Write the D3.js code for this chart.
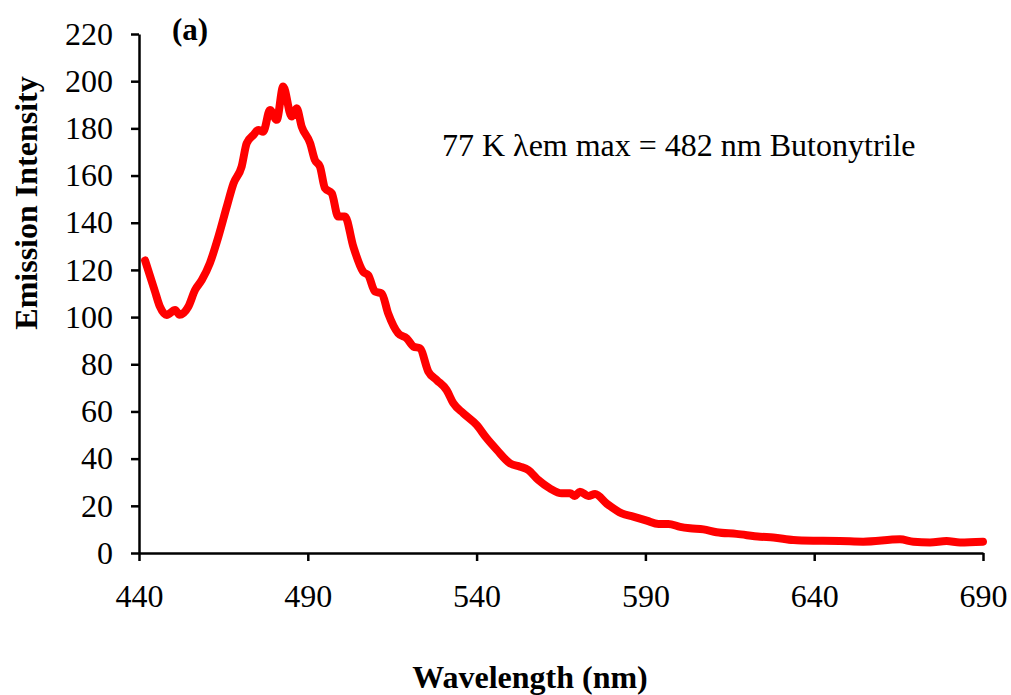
<!DOCTYPE html>
<html>
<head>
<meta charset="utf-8">
<script src="https://cdn.jsdelivr.net/npm/d3@7"></script>
<style>
  body { margin: 0; background: #fff; }
  svg text { font-family: "Liberation Serif", "Times New Roman", serif; fill: #000; }
</style>
</head>
<body>
<svg width="1011" height="695"></svg>
<script>
// Emission spectrum
const wavelength = [441.8, 444.7, 446.2, 448.2, 450.7, 452, 454.6, 456.6, 458.6, 461, 463.5, 466, 468, 470.4,
    471.9, 473.9, 475.3, 476.8, 478.8, 480.8, 482.7, 485.2, 486.7, 488.2, 490.7, 492.1, 493.6, 495.1, 497.1,
    499, 501, 503.5, 506.4, 507.9, 509.9, 511.9, 513.8, 516.8, 519.3, 521.3, 523.2, 525.7, 528.2, 531.1,
    533.1, 536.1, 540, 543, 546, 549.9, 552.9, 555.3, 558.3, 561.7, 565.2, 567.7, 569.1, 570.6, 573.1,
    575.1, 578.5, 583, 586.4, 590.4, 593.9, 596.8, 600.3, 603.2, 607.2, 611.1, 617, 624, 627.9, 633.8,
    639.7, 647.6, 654.5, 665.4, 669.4, 674.3, 679.2, 683.2, 690];
const intensity = [124, 111, 104.4, 100.9, 103, 101, 104.4, 111.5, 115.7, 122.9, 134, 146.8, 156.7, 163.8,
    173.7, 177.2, 179.3, 178.6, 187.8, 183.6, 197.7, 185, 188.5, 180.7, 173.7, 166.6, 163.8, 154.6, 152.5,
    142.6, 142.6, 129.8, 119.2, 117.8, 110.8, 110, 101.6, 93.1, 91, 87.5, 86.8, 76.9, 73.3, 69.1,
    63.5, 59.2, 54.3, 48.6, 43.7, 38, 36.6, 35.2, 30.9, 27.4, 25.3, 25.3, 24.2, 26, 24.2,
    25, 21, 16.8, 15.4, 13.7, 12.3, 12.3, 11.1, 10.5, 10, 8.8, 8.1, 6.9, 6.6, 5.5,
    5.2, 5.1, 4.8, 5.8, 4.8, 4.5, 5.1, 4.5, 4.8];
const xTicks = [440, 490, 540, 590, 640, 690];
const yTicks = [0, 20, 40, 60, 80, 100, 120, 140, 160, 180, 200, 220];

const svg = d3.select("svg");
const plotLeft = 139, plotRight = 983, plotTop = 34, plotBottom = 553;

const x = d3.scaleLinear().domain([440, 690]).range([plotLeft, plotRight]);
const y = d3.scaleLinear().domain([0, 220]).range([plotBottom, plotTop]);

const xAxis = svg.append("g")
    .attr("transform", `translate(0,${plotBottom})`)
    .call(d3.axisBottom(x).tickValues(xTicks).tickSize(8).tickSizeOuter(0).tickPadding(23).tickFormat(d3.format("d")));
const yAxis = svg.append("g")
    .attr("transform", `translate(${plotLeft},0)`)
    .call(d3.axisLeft(y).tickValues(yTicks).tickSize(8).tickSizeOuter(0).tickPadding(18).tickFormat(d3.format("d")));

[xAxis, yAxis].forEach(a => {
    a.select(".domain").attr("stroke", "#000").attr("stroke-width", 2.5);
    a.selectAll(".tick line").attr("stroke", "#000").attr("stroke-width", 2.5);
    a.selectAll(".tick text").attr("font-size", 32).attr("fill", "#000")
        .attr("font-family", "Liberation Serif");
});

const line = d3.line().x((d, i) => x(wavelength[i])).y(d => y(d)).curve(d3.curveMonotoneX);
svg.append("path")
    .datum(intensity)
    .attr("fill", "none")
    .attr("stroke", "#ff0000")
    .attr("stroke-width", 8)
    .attr("stroke-linejoin", "round")
    .attr("stroke-linecap", "round")
    .attr("d", line);

svg.append("text")
    .attr("x", 530).attr("y", 688)
    .attr("text-anchor", "middle")
    .attr("font-size", 32).attr("font-weight", "bold")
    .text("Wavelength (nm)");

svg.append("text")
    .attr("transform", "translate(37,203) rotate(-90)")
    .attr("text-anchor", "middle")
    .attr("font-size", 32).attr("font-weight", "bold")
    .text("Emission Intensity");

svg.append("text")
    .attr("x", 172).attr("y", 40)
    .attr("font-size", 31).attr("font-weight", "bold")
    .text("(a)");

svg.append("text")
    .attr("x", 442).attr("y", 156)
    .attr("font-size", 32)
    .text("77 K λem max = 482 nm Butonytrile");
</script>
</body>
</html>
